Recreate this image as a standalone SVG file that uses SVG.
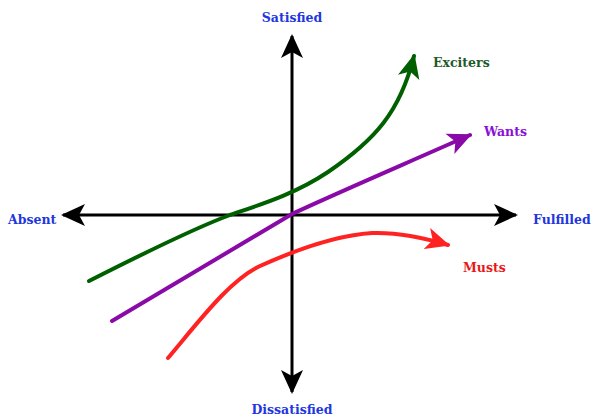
<svg xmlns="http://www.w3.org/2000/svg" width="592" height="420" viewBox="0 0 592 420">
<style>
.lbl{font-family:"DejaVu Serif","Liberation Serif",serif;font-weight:bold;font-size:12.5px}
.axis{fill:none;stroke:#000;stroke-width:3}
.curve{fill:none;stroke-width:4;stroke-linecap:round}
</style>
<defs>
<marker id="ak" markerUnits="userSpaceOnUse" viewBox="0 0 24 24" refX="22" refY="12" markerWidth="24" markerHeight="24" orient="auto"><path d="M0,1 L24,12 L0,23 L6,12 Z" fill="#000"/></marker>
<marker id="ag" markerUnits="userSpaceOnUse" viewBox="0 0 24 24" refX="22" refY="12" markerWidth="24" markerHeight="24" orient="auto"><path d="M0,1 L24,12 L0,23 L6,12 Z" fill="#006000"/></marker>
<marker id="ap" markerUnits="userSpaceOnUse" viewBox="0 0 24 24" refX="22" refY="12" markerWidth="24" markerHeight="24" orient="auto"><path d="M0,1 L24,12 L0,23 L6,12 Z" fill="#8a0aa8"/></marker>
<marker id="ar" markerUnits="userSpaceOnUse" viewBox="0 0 24 24" refX="22" refY="12" markerWidth="24" markerHeight="24" orient="auto"><path d="M0,1 L24,12 L0,23 L6,12 Z" fill="#f22"/></marker>
</defs>
<g id="connectors">
<line class="axis" x1="292" y1="215" x2="292" y2="36" marker-end="url(#ak)"/>
<line class="axis" x1="292" y1="215" x2="292" y2="392" marker-end="url(#ak)"/>
<line class="axis" x1="292" y1="215" x2="63" y2="215" marker-end="url(#ak)"/>
<line class="axis" x1="292" y1="215" x2="516" y2="215" marker-end="url(#ak)"/>
<path id="exciters-curve" class="curve" stroke="#006000" d="M89,281 C150,250 195,228 230,215 C262,204 295,194 328,172 C375,140 400,112 414,56" marker-end="url(#ag)"/>
<path id="wants-curve" class="curve" stroke="#8a0aa8" d="M112,321 L292,214 C330,196 400,166 470,135" marker-end="url(#ap)"/>
<path id="musts-curve" class="curve" stroke="#f22" d="M168,358 C200,320 230,280 260,266 C300,248 340,235 372,233 C400,232 425,238 448,245" marker-end="url(#ar)"/>
</g>
<g id="satisfied"><text class="lbl" x="292" y="22" text-anchor="middle" fill="#2236e0">Satisfied</text></g>
<g id="dissatisfied"><text class="lbl" x="292" y="414" text-anchor="middle" fill="#2236e0">Dissatisfied</text></g>
<g id="absent"><text class="lbl" x="8" y="224" fill="#2236e0">Absent</text></g>
<g id="fulfilled"><text class="lbl" x="533" y="224" fill="#2236e0">Fulfilled</text></g>
<g id="exciters"><text class="lbl" x="433" y="67" fill="#1e5a2a">Exciters</text></g>
<g id="wants"><text class="lbl" x="484" y="136" fill="#8a10d8">Wants</text></g>
<g id="musts"><text class="lbl" x="463" y="272" fill="#e81818">Musts</text></g>
</svg>
